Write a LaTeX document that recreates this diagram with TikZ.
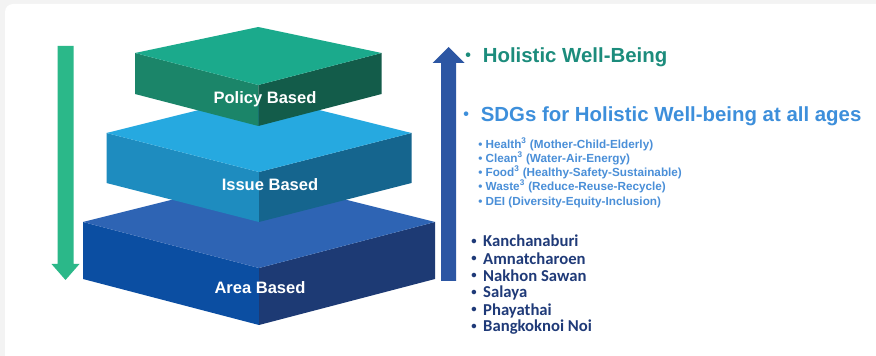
\documentclass[tikz,border=0pt]{standalone}
\usepackage{fontspec}
\setmainfont{Liberation Sans}
\newfontfamily\cityfont{Carlito}

\definecolor{pageGray}{HTML}{F3F3F3}
\definecolor{policyTop}{HTML}{1BAA8C}
\definecolor{policyLeft}{HTML}{1B8569}
\definecolor{policyRight}{HTML}{135C4A}
\definecolor{issueTop}{HTML}{26A9E0}
\definecolor{issueLeft}{HTML}{1E8CBF}
\definecolor{issueRight}{HTML}{15658E}
\definecolor{areaTop}{HTML}{2E64B4}
\definecolor{areaLeft}{HTML}{0B4EA2}
\definecolor{areaRight}{HTML}{1D3A74}
\definecolor{downGreen}{HTML}{2BB889}
\definecolor{upBlue}{HTML}{2C56A3}
\definecolor{holisticTeal}{HTML}{1C8C7C}
\definecolor{sdgBlue}{HTML}{3D8FDB}
\definecolor{itemBlue}{HTML}{4A8FD8}
\definecolor{cityNavy}{HTML}{1F3A78}

% centre x, corner y, half width, back y, front y, thickness, top, left, right
\newcommand{\slabblock}[9]{%
  \fill[#8] (#1-#3,#2) -- (#1,#5) -- (#1,#5+#6) -- (#1-#3,#2+#6) -- cycle;
  \fill[#9] (#1+#3,#2) -- (#1,#5) -- (#1,#5+#6) -- (#1+#3,#2+#6) -- cycle;
  \fill[#7] (#1-#3,#2) -- (#1,#4) -- (#1+#3,#2) -- (#1,#5) -- cycle;
}
\newcommand{\smalldot}[2]{\raisebox{#2}{\fontsize{#1}{#1}\selectfont\textbullet}}

\tikzset{
  slabtext/.style={font=\bfseries\fontsize{12.4}{14}\selectfont, text=white, inner sep=0pt},
  headline/.style={font=\bfseries\fontsize{15.3}{18}\selectfont, anchor=base west, inner sep=0pt},
  sdgitem/.style={font=\bfseries\fontsize{8.8}{10}\selectfont, text=itemBlue, anchor=base west, inner sep=0pt},
  cityitem/.style={font=\cityfont\bfseries\fontsize{12.5}{14}\selectfont, text=cityNavy, anchor=base west, inner sep=0pt}
}

\begin{document}
\begin{tikzpicture}[x=0.75pt,y=-0.75pt]
  \useasboundingbox (0,0) rectangle (876,356);
  \fill[pageGray] (0,0) rectangle (876,356);
  \fill[white, rounded corners=6pt] (5,4) rectangle (890,370);

  \slabblock{259}{222}{176}{178}{268}{57}{areaTop}{areaLeft}{areaRight}
  \slabblock{259}{133}{152.5}{95}{172}{50}{issueTop}{issueLeft}{issueRight}
  \slabblock{258.3}{53}{123.3}{27}{85}{41}{policyTop}{policyLeft}{policyRight}

  \node[slabtext] (policy) at (265,99) {Policy Based};
  \node[slabtext] (issue) at (270,185) {Issue Based};
  \node[slabtext] (area) at (260,288) {Area Based};

  \fill[downGreen] (57.5,46) -- (73.5,46) -- (73.5,264) -- (79.5,264)
    -- (65.5,280) -- (51.5,264) -- (57.5,264) -- cycle;
  \fill[upBlue] (441,281) -- (456,281) -- (456,63) -- (464.5,63)
    -- (448.5,47) -- (432.5,63) -- (441,63) -- cycle;

  \node[headline, text=holisticTeal] (holistic) at (465,62.5) {\smalldot{12}{1.5pt}\hspace{9pt}Holistic Well-Being};
  \node[headline, text=sdgBlue] (sdgs) at (463,122) {\smalldot{12}{1.5pt}\hspace{9pt}SDGs for Holistic Well-being at all ages};

  \node[sdgitem] (health) at (478,149) {\textbullet\ Health\textsuperscript{3} (Mother-Child-Elderly)};
  \node[sdgitem] (clean) at (478,163) {\textbullet\ Clean\textsuperscript{3} (Water-Air-Energy)};
  \node[sdgitem] (food) at (478,177) {\textbullet\ Food\textsuperscript{3} (Healthy-Safety-Sustainable)};
  \node[sdgitem] (waste) at (478,191) {\textbullet\ Waste\textsuperscript{3} (Reduce-Reuse-Recycle)};
  \node[sdgitem] (dei) at (478,206) {\textbullet\ DEI (Diversity-Equity-Inclusion)};

  \node[cityitem] (kanchanaburi) at (471,247) {\smalldot{8}{2pt}\hspace{5pt}Kanchanaburi};
  \node[cityitem] (amnat) at (471,264.5) {\smalldot{8}{2pt}\hspace{5pt}Amnatcharoen};
  \node[cityitem] (nakhon) at (471,281.5) {\smalldot{8}{2pt}\hspace{5pt}Nakhon Sawan};
  \node[cityitem] (salaya) at (471,298) {\smalldot{8}{2pt}\hspace{5pt}Salaya};
  \node[cityitem] (phayathai) at (471,315.5) {\smalldot{8}{2pt}\hspace{5pt}Phayathai};
  \node[cityitem] (bangkoknoi) at (471,332) {\smalldot{8}{2pt}\hspace{5pt}Bangkoknoi Noi};
\end{tikzpicture}
\end{document}
